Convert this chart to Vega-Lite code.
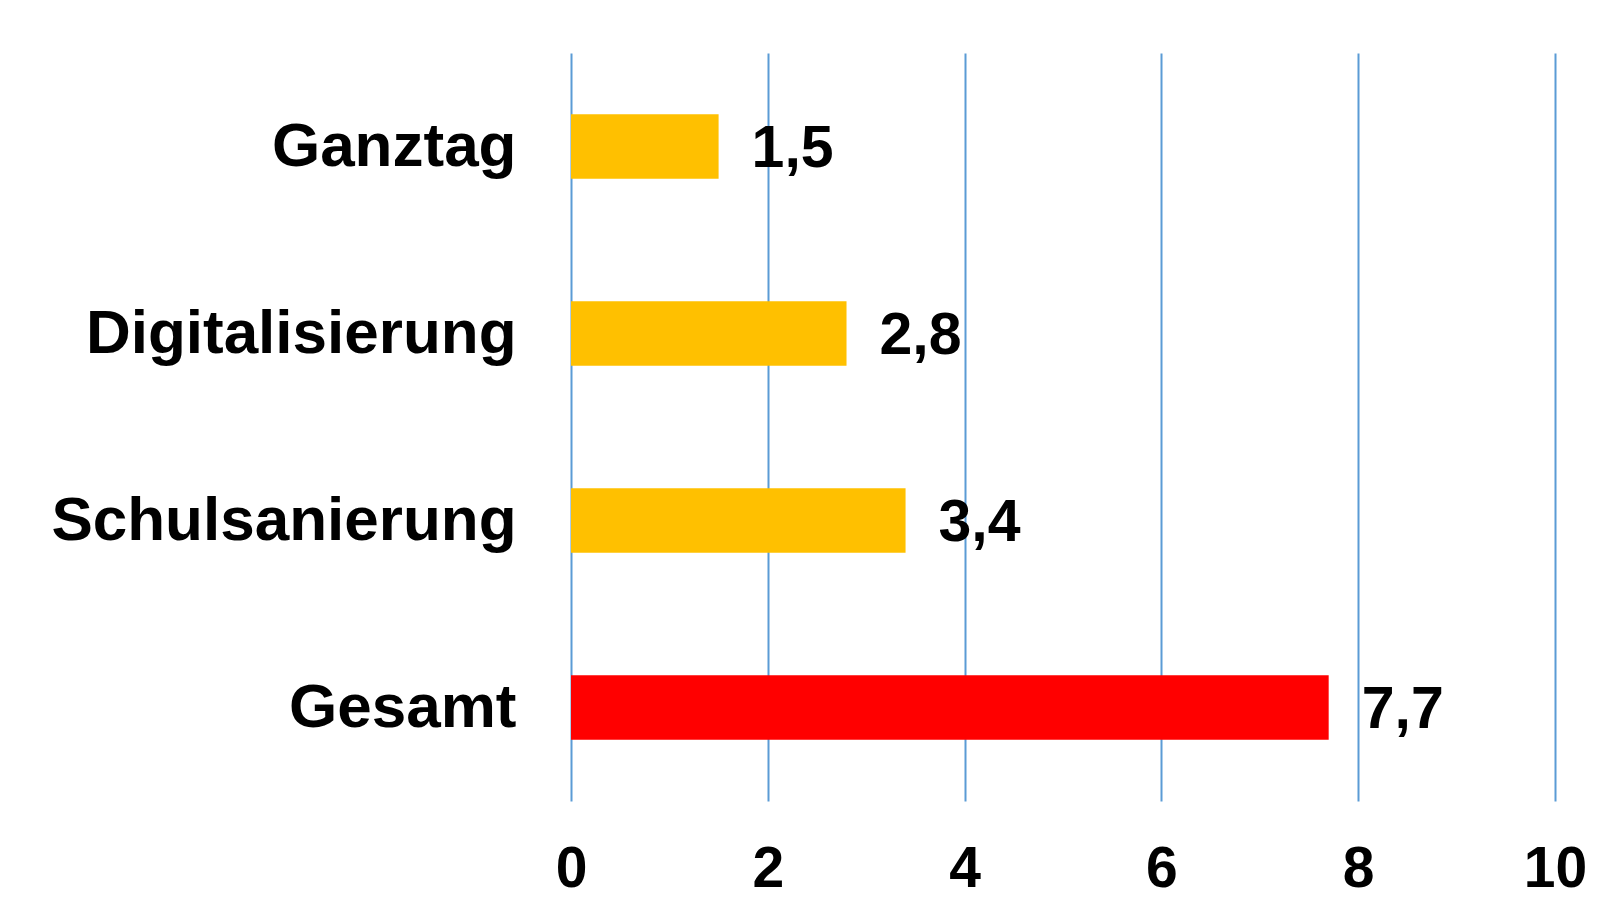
{
  "$schema": "https://vega.github.io/schema/vega-lite/v6.json",
  "width": 984,
  "height": 748,
  "autosize": {"type": "none"},
  "padding": {"left": 571, "top": 53, "right": 69, "bottom": 122},
  "background": "white",
  "config": {
    "view": {"stroke": null},
    "locale": {"number": {"decimal": ",", "thousands": ".", "grouping": [3], "currency": ["", " €"]}},
    "font": "Liberation Sans"
  },
  "data": {
    "values": [
      {"kategorie": "Ganztag", "wert": 1.5, "typ": "teil"},
      {"kategorie": "Digitalisierung", "wert": 2.8, "typ": "teil"},
      {"kategorie": "Schulsanierung", "wert": 3.4, "typ": "teil"},
      {"kategorie": "Gesamt", "wert": 7.7, "typ": "gesamt"}
    ]
  },
  "encoding": {
    "y": {
      "field": "kategorie",
      "type": "nominal",
      "sort": null,
      "scale": {"paddingInner": 0.656, "paddingOuter": 0.328},
      "axis": {
        "title": null,
        "domain": false,
        "ticks": false,
        "grid": false,
        "labelPadding": 55,
        "labelLimit": 0,
        "labelFont": "Liberation Sans",
        "labelFontWeight": "bold",
        "labelFontSize": 62,
        "labelColor": "#000000"
      }
    },
    "x": {
      "field": "wert",
      "type": "quantitative",
      "scale": {"domain": [0, 10], "nice": false},
      "axis": {
        "title": null,
        "domain": false,
        "ticks": false,
        "values": [0, 2, 4, 6, 8, 10],
        "format": "d",
        "grid": true,
        "gridColor": "#5b9bd5",
        "gridWidth": 2,
        "gridOpacity": 1,
        "labelFlush": false,
        "labelOverlap": false,
        "labelPadding": 40,
        "labelFont": "Liberation Sans",
        "labelFontWeight": "bold",
        "labelFontSize": 57,
        "labelColor": "#000000"
      }
    }
  },
  "layer": [
    {
      "mark": {"type": "bar"},
      "encoding": {
        "color": {
          "field": "typ",
          "type": "nominal",
          "scale": {"domain": ["teil", "gesamt"], "range": ["#ffc000", "#ff0000"]},
          "legend": null
        }
      }
    },
    {
      "mark": {
        "type": "text",
        "align": "left",
        "baseline": "middle",
        "dx": 33,
        "dy": 2,
        "font": "Liberation Sans",
        "fontWeight": "bold",
        "fontSize": 59,
        "color": "#000000"
      },
      "encoding": {
        "text": {"field": "wert", "type": "quantitative", "format": ".1f"}
      }
    }
  ]
}
